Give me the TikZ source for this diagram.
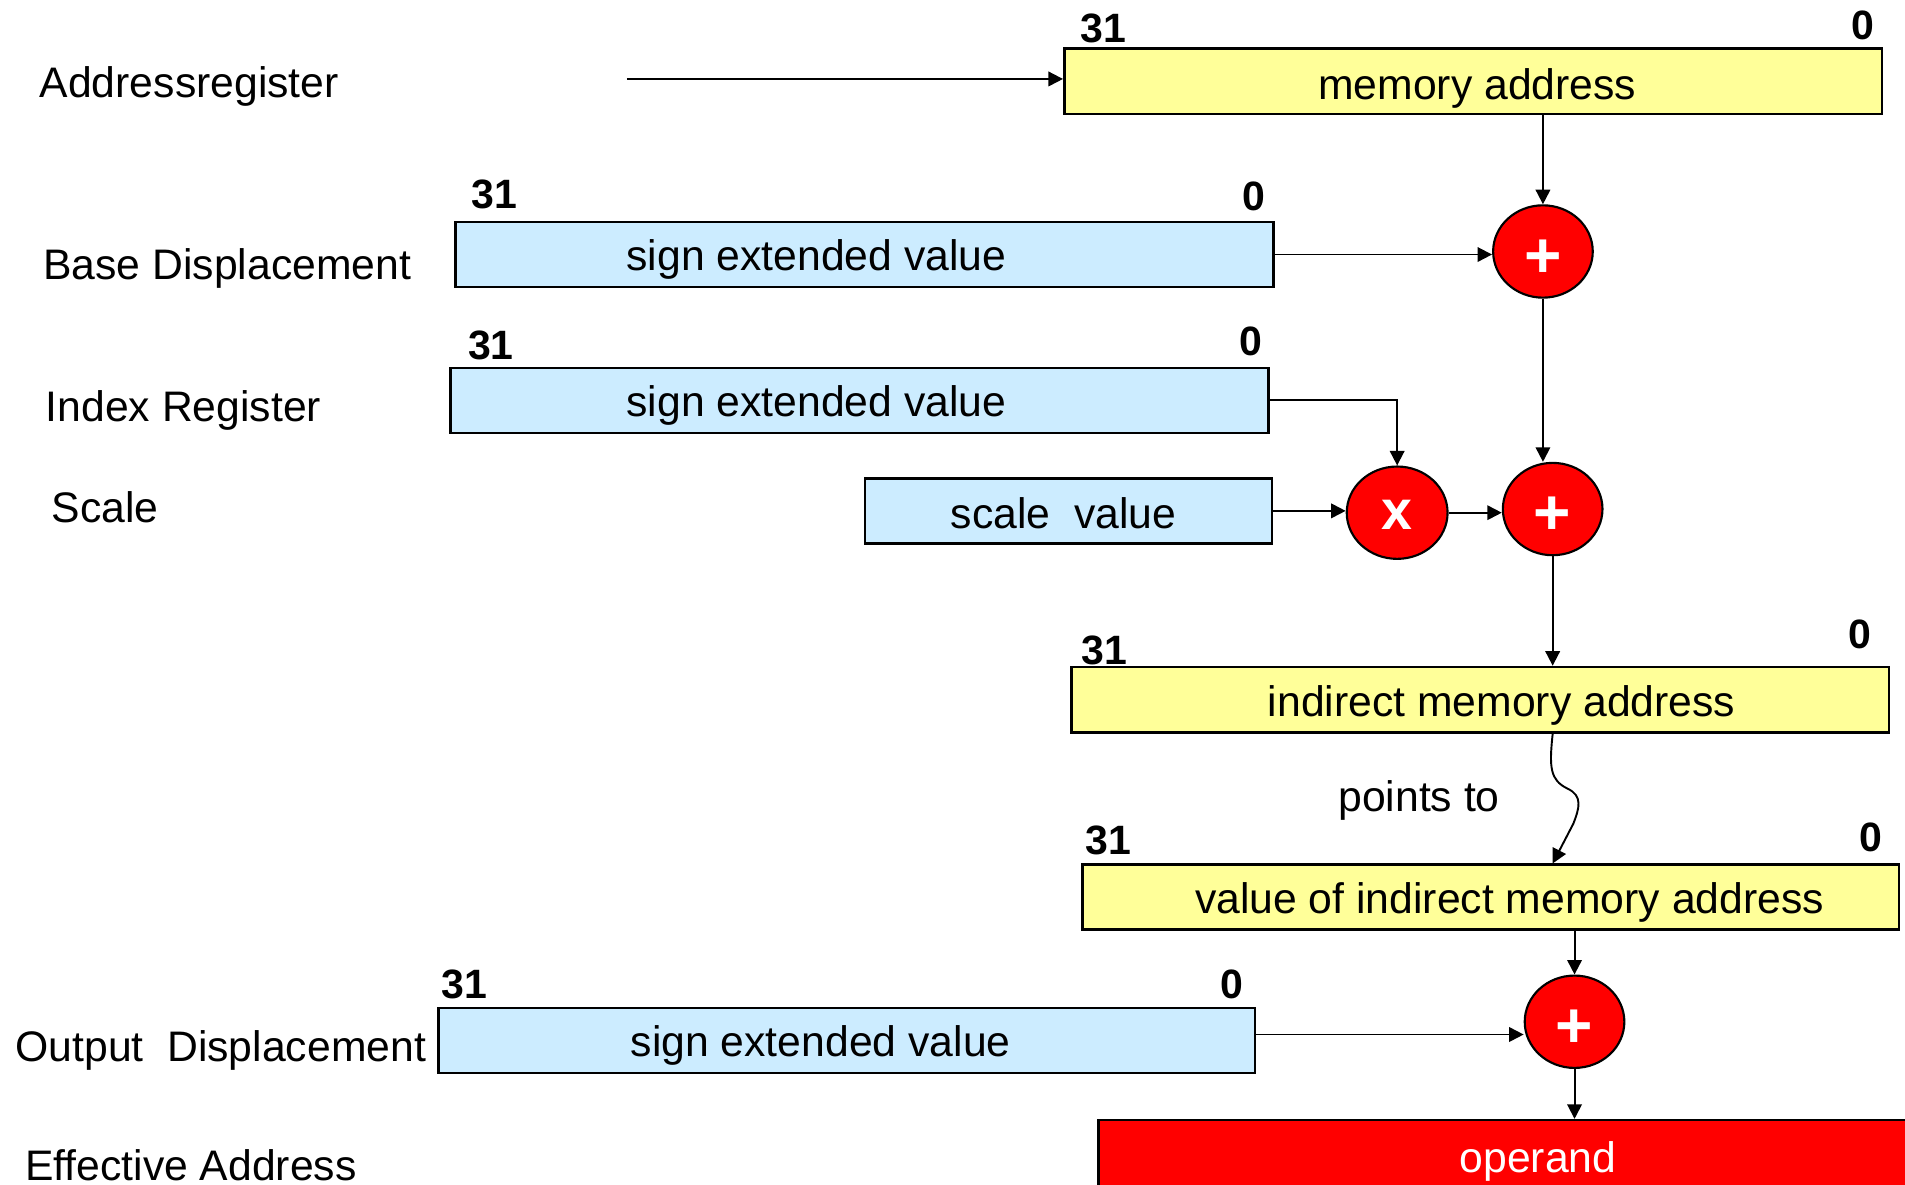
\documentclass[tikz,border=0pt]{standalone}
\usepackage{fontspec}
\setmainfont{Liberation Sans}
\usetikzlibrary{shapes.geometric,arrows.meta,calc}
\definecolor{ylw}{HTML}{FFFF99}
\definecolor{lblue}{HTML}{CCECFF}
\definecolor{rd}{HTML}{FF0000}
\begin{document}
\begin{tikzpicture}[x=0.1mm,y=-0.1mm,
  regbox/.style={draw=black,line width=0.6pt,rectangle,inner sep=0pt,minimum height=5.35mm},
  ybox/.style={regbox,fill=ylw},
  bbox/.style={regbox,fill=lblue},
  txt/.style={inner sep=0pt,font=\fontsize{10}{12}\selectfont},
  bit/.style={inner sep=0pt,font=\fontsize{9.6}{11}\selectfont\bfseries},
  op/.style={ellipse,draw=black,line width=0.5pt,fill=rd,inner sep=0pt,minimum width=8.2mm,minimum height=7.6mm,text=white,text height=12pt,text depth=0pt,font=\fontsize{15}{16}\selectfont\bfseries},
  arr/.style={line width=0.45pt,-{Triangle[length=3.4pt,width=3.4pt]}},
  ln/.style={line width=0.45pt}]
\clip (0,0) rectangle (1568,975);

% left labels
\node[txt,anchor=base west] (l1) at (32,80) {Addressregister};
\node[txt,anchor=base west] (l2) at (35,230) {Base Displacement};
\node[txt,anchor=base west] (l3) at (37,347) {Index Register};
\node[txt,anchor=base west] (l4) at (42,430) {Scale};
\node[txt,anchor=base west] (l5) at (12,874) {Output~ Displacement};
\node[txt,anchor=base west] (l6) at (20,972) {Effective Address};

% boxes
\node[ybox,minimum width=67.3mm,minimum height=5.4mm] (ma) at (1212.5,67) {};
\node[bbox,minimum width=67.3mm] (bd) at (711.5,209.5) {};
\node[bbox,minimum width=67.3mm] (ir) at (707.5,329.5) {};
\node[bbox,minimum width=33.5mm] (sv) at (879.5,420.5) {};
\node[ybox,minimum width=67.3mm,minimum height=5.4mm] (ima) at (1218.5,576) {};
\node[ybox,minimum width=67.2mm] (vima) at (1227,738.5) {};
\node[bbox,minimum width=67.2mm] (od) at (697,856.5) {};
\node[draw=black,line width=0.6pt,fill=rd,rectangle,inner sep=0pt,minimum width=72mm,minimum height=6mm] (opd) at (1264,952) {};

% box texts
\node[txt,anchor=base] (ma-t) at (1216,82) {memory address};
\node[txt,anchor=base] (bd-t) at (672,223) {sign extended value};
\node[txt,anchor=base] (ir-t) at (672,343) {sign extended value};
\node[txt,anchor=base] (sv-t) at (875.5,435) {scale~ value};
\node[txt,anchor=base] (ima-t) at (1236,590) {indirect memory address};
\node[txt,anchor=base] (vima-t) at (1242.5,752) {value of indirect memory address};
\node[txt,anchor=base] (od-t) at (675.5,870) {sign extended value};
\node[txt,anchor=base,text=white] (opd-t) at (1266,965) {operand};
\node[txt,anchor=base] (pt) at (1168,668) {points to};

% bit numbers
\node[bit] (ma-hi) at (908,23.5) {31};
\node[bit] (ma-lo) at (1533.5,20.5) {0};
\node[bit] (bd-hi) at (407,160) {31};
\node[bit] (bd-lo) at (1032,161.5) {0};
\node[bit] (ir-hi) at (404,284) {31};
\node[bit] (ir-lo) at (1029.5,281) {0};
\node[bit] (ima-hi) at (909,535) {31};
\node[bit] (ima-lo) at (1531,522) {0};
\node[bit] (vima-hi) at (912,692) {31};
\node[bit] (vima-lo) at (1540,689) {0};
\node[bit] (od-hi) at (382,810) {31};
\node[bit] (od-lo) at (1014,810) {0};

% operators
\node[op] (p1) at (1270,207) {+};
\node[op] (p2) at (1278,419) {+};
\node[op,minimum width=8.3mm,text height=8pt,font=\fontsize{13}{14}\selectfont\bfseries] (tm) at (1150,422) {x};
\node[op] (p3) at (1296,841) {+};

% connectors
\coordinate (src) at (516,65);
\draw[arr] (src) -- (src -| ma.west);
\draw[arr] (p1.north |- ma.south) -- (p1.north);
\draw[arr] (bd.east) -- (bd.east -| p1.west);
\draw[arr] (p1.south) -- (p1.south |- p2.north);
\draw[arr] (ir.east) -| (tm.north);
\draw[arr] (sv.east) -- (sv.east -| tm.west);
\draw[arr] (tm.east) -- (tm.east -| p2.west);
\draw[arr] (p2.south) -- (p2.south |- ima.north);
\draw[arr] (p2.south |- ima.south) .. controls (1275,632) and (1276,642) .. (1290,649)
   .. controls (1303,655) and (1300,665) .. (1295,678) -- (p2.south |- vima.north);
\draw[arr] (p3.north |- vima.south) -- (p3.north);
\draw[arr] ([yshift=0.5mm]od.east) -- ([yshift=0.5mm]od.east -| p3.west);
\draw[arr] (p3.south) -- (p3.south |- opd.north);
\end{tikzpicture}
\end{document}
